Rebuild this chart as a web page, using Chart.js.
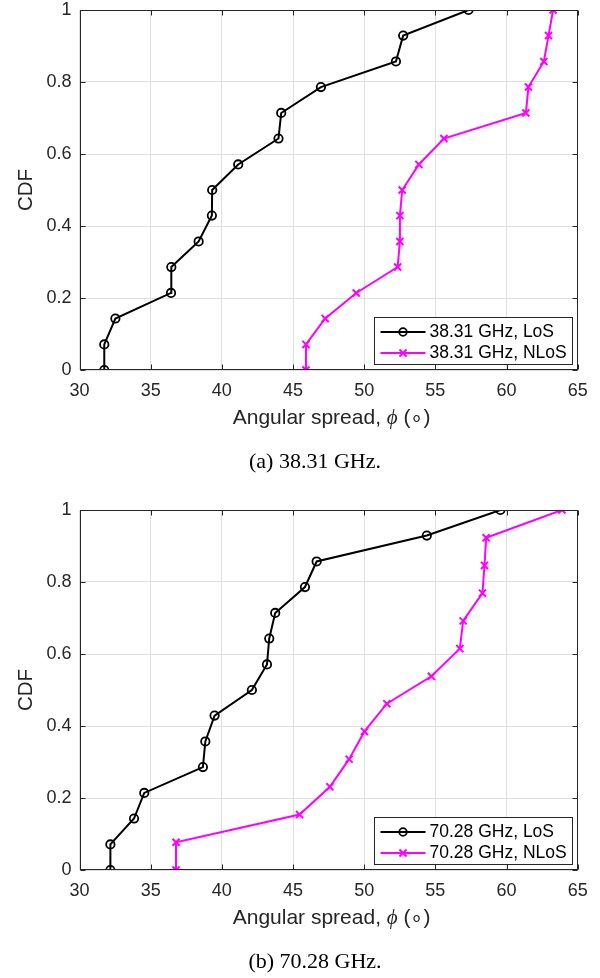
<!DOCTYPE html>
<html><head><meta charset="utf-8">
<script src="https://cdn.jsdelivr.net/npm/chart.js@4/dist/chart.umd.min.js"></script>
<style>
html,body{margin:0;padding:0;background:#fff;}
body{width:600px;height:978px;position:relative;overflow:hidden;}
.panel{position:absolute;left:0;width:600px;}
.panel canvas{display:block;}
.caption{position:absolute;left:0;width:630px;text-align:center;font-family:"Liberation Serif","Times New Roman",serif;font-size:22px;line-height:26px;color:#000;}
</style></head><body>
<div class="panel" style="top:0;height:500px"><canvas id="c1" width="600" height="500"></canvas></div>
<div class="caption" style="top:448px">(a) 38.31 GHz.</div>
<div class="panel" style="top:500px;height:478px"><canvas id="c2" width="600" height="478"></canvas></div>
<div class="caption" style="top:948px">(b) 70.28 GHz.</div>
<script>
// ---- data ----
const xTicks = [30, 35, 40, 45, 50, 55, 60, 65];
const yTicks = [0, 0.2, 0.4, 0.6, 0.8, 1];
const yTickLabels = ['0', '0.2', '0.4', '0.6', '0.8', '1'];
const xTitleParts = ['Angular spread, ', '\u03D5', ' (\u2218)'];
const yTitle = 'CDF';

// panel (a) 38.31 GHz
const aLabels = ['38.31 GHz, LoS', '38.31 GHz, NLoS'];
const aLosX  = [31.74, 31.74, 32.52, 36.43, 36.45, 38.37, 39.30, 39.32, 41.15, 43.98, 44.17, 46.96, 52.23, 52.74, 57.33];
const aLosY  = [0, 0.071, 0.143, 0.214, 0.286, 0.357, 0.429, 0.5, 0.571, 0.643, 0.714, 0.786, 0.857, 0.929, 1];
const aNlosX = [45.91, 45.91, 47.26, 49.44, 52.35, 52.51, 52.51, 52.67, 53.84, 55.60, 61.36, 61.54, 62.62, 62.95, 63.27];
const aNlosY = [0, 0.071, 0.143, 0.214, 0.286, 0.357, 0.429, 0.5, 0.571, 0.643, 0.714, 0.786, 0.857, 0.929, 1];

// panel (b) 70.28 GHz
const bLabels = ['70.28 GHz, LoS', '70.28 GHz, NLoS'];
const bLosX  = [32.17, 32.17, 33.83, 34.55, 38.67, 38.84, 39.49, 42.11, 43.17, 43.33, 43.75, 45.84, 46.66, 54.40, 59.57];
const bLosY  = [0, 0.071, 0.143, 0.214, 0.286, 0.357, 0.429, 0.5, 0.571, 0.643, 0.714, 0.786, 0.857, 0.929, 1];
const bNlosX = [36.78, 36.78, 45.46, 47.59, 48.94, 50.02, 51.59, 54.72, 56.72, 56.95, 58.31, 58.45, 58.57, 63.89];
const bNlosY = [0, 0.077, 0.154, 0.231, 0.308, 0.385, 0.462, 0.538, 0.615, 0.692, 0.769, 0.846, 0.923, 1];

// ---- styling ----
const SANS = '"Liberation Sans", Arial, Helvetica, sans-serif';
const AXIS_COLOR = '#262626';
const GRID_COLOR = '#dfdfdf';
const LOS_COLOR = '#000000';
const NLOS_COLOR = '#ff00ff';

function pts(xs, ys) { return xs.map((x, i) => ({x: x, y: ys[i]})); }

function drawMarker(ctx, style, x, y, r, color, lw) {
  ctx.save();
  ctx.strokeStyle = color; ctx.lineWidth = lw;
  ctx.beginPath();
  if (style === 'circle') {
    ctx.arc(x, y, r, 0, Math.PI * 2);
  } else {
    const d = r * Math.SQRT1_2;
    ctx.moveTo(x - d, y - d); ctx.lineTo(x + d, y + d);
    ctx.moveTo(x - d, y + d); ctx.lineTo(x + d, y - d);
  }
  ctx.stroke();
  ctx.restore();
}

const boxPlugin = {
  id: 'matlabBox',
  afterDatasetsDraw(chart) {
    const ctx = chart.ctx;
    const {left, right, top, bottom} = chart.chartArea;
    const L = Math.round(left) + 0.5, R = Math.round(right) - 0.5;
    const T = Math.round(top) + 0.5, B = Math.round(bottom) - 0.5;
    ctx.save();
    ctx.strokeStyle = AXIS_COLOR; ctx.lineWidth = 1;
    ctx.strokeRect(L, T, R - L, B - T);
    const tl = 5;
    ctx.beginPath();
    xTicks.forEach(v => {
      const x = Math.round(chart.scales.x.getPixelForValue(v)) + 0.5;
      ctx.moveTo(x, B); ctx.lineTo(x, B - tl);
      ctx.moveTo(x, T); ctx.lineTo(x, T + tl);
    });
    yTicks.forEach(v => {
      const y = Math.round(chart.scales.y.getPixelForValue(v)) + 0.5;
      ctx.moveTo(L, y); ctx.lineTo(L + tl, y);
      ctx.moveTo(R, y); ctx.lineTo(R - tl, y);
    });
    ctx.stroke();
    ctx.restore();
  },
  afterDraw(chart) {
    const ctx = chart.ctx;
    const {left, right, bottom} = chart.chartArea;
    // x-axis title with italic phi
    ctx.save();
    const fonts = ['21px ' + SANS, 'italic 21px "Liberation Serif", serif', '21px ' + SANS];
    let widths = xTitleParts.map((t, i) => { ctx.font = fonts[i]; return ctx.measureText(t).width; });
    const total = widths.reduce((a, b) => a + b, 0);
    let x = (left + right) / 2 + 3 - total / 2;
    const ty = bottom + 48;
    ctx.fillStyle = '#262626';
    ctx.textBaseline = 'middle'; ctx.textAlign = 'left';
    xTitleParts.forEach((t, i) => { ctx.font = fonts[i]; ctx.fillText(t, x, ty); x += widths[i]; });
    ctx.restore();

    // legend box in the lower right corner
    const w = 198, h = 47;
    const x0 = Math.round(right - 5.7 - w) + 0.5, y0 = Math.round(bottom - 6 - h) + 0.5;
    ctx.save();
    ctx.fillStyle = '#ffffff';
    ctx.fillRect(x0, y0, w, h);
    ctx.strokeStyle = AXIS_COLOR; ctx.lineWidth = 1;
    ctx.strokeRect(x0, y0, w, h);
    chart.data.datasets.forEach((ds, i) => {
      const ry = y0 + 14.5 + i * 21;
      ctx.strokeStyle = ds.borderColor; ctx.lineWidth = 2;
      ctx.beginPath(); ctx.moveTo(x0 + 6, ry); ctx.lineTo(x0 + 51, ry); ctx.stroke();
      drawMarker(ctx, ds.pointStyle, x0 + 28.5, ry, ds.pointStyle === 'circle' ? 3.8 : 5, ds.borderColor, ds.pointBorderWidth);
      ctx.fillStyle = '#000';
      ctx.font = '17.5px ' + SANS;
      ctx.textBaseline = 'middle'; ctx.textAlign = 'left';
      ctx.fillText(ds.label, x0 + 55, ry + 0.5);
    });
    ctx.restore();
  }
};

function makeChart(id, labels, losX, losY, nlosX, nlosY, canvasH) {
  return new Chart(document.getElementById(id), {
    type: 'scatter',
    data: {
      datasets: [
        {label: labels[0], data: pts(losX, losY), showLine: true, borderColor: LOS_COLOR, borderWidth: 2,
         pointStyle: 'circle', pointRadius: 4.2, pointBorderWidth: 1.8, pointBackgroundColor: 'rgba(0,0,0,0)',
         pointBorderColor: LOS_COLOR, fill: false, tension: 0},
        {label: labels[1], data: pts(nlosX, nlosY), showLine: true, borderColor: NLOS_COLOR, borderWidth: 2,
         pointStyle: 'crossRot', pointRadius: 5, pointBorderWidth: 2, pointBackgroundColor: NLOS_COLOR,
         pointBorderColor: NLOS_COLOR, fill: false, tension: 0}
      ]
    },
    options: {
      responsive: false, animation: false, devicePixelRatio: 1,
      layout: {padding: {left: 0, top: 10, right: 22.3, bottom: canvasH - 430}},
      plugins: {legend: {display: false}, tooltip: {enabled: false}, title: {display: false}},
      scales: {
        x: {
          type: 'linear', min: 30, max: 65,
          afterBuildTicks: s => { s.ticks = xTicks.map(v => ({value: v})); },
          afterFit: s => { s.height = 60; s.paddingLeft = 0; s.paddingRight = 0; },
          grid: {color: GRID_COLOR, lineWidth: 1, drawTicks: false},
          border: {display: false},
          ticks: {color: '#262626', padding: 12, font: {family: SANS, size: 18, lineHeight: 1}, maxRotation: 0,
                  callback: v => String(v)},
          title: {display: false}
        },
        y: {
          type: 'linear', min: 0, max: 1,
          afterBuildTicks: s => { s.ticks = yTicks.map(v => ({value: v})); },
          afterFit: s => { s.width = 79.5; s.paddingTop = 0; s.paddingBottom = 0; },
          grid: {color: GRID_COLOR, lineWidth: 1, drawTicks: false},
          border: {display: false},
          ticks: {color: '#262626', padding: 8, font: {family: SANS, size: 18, lineHeight: 1},
                  callback: v => yTickLabels[yTicks.indexOf(v)] !== undefined ? yTickLabels[yTicks.indexOf(v)] : String(v)},
          title: {display: true, text: yTitle, color: '#262626', font: {family: SANS, size: 20.5, lineHeight: 1.2},
                  padding: {top: 14, bottom: 0}}
        }
      }
    },
    plugins: [boxPlugin]
  });
}

makeChart('c1', aLabels, aLosX, aLosY, aNlosX, aNlosY, 500);
makeChart('c2', bLabels, bLosX, bLosY, bNlosX, bNlosY, 478);
</script>
</body></html>
